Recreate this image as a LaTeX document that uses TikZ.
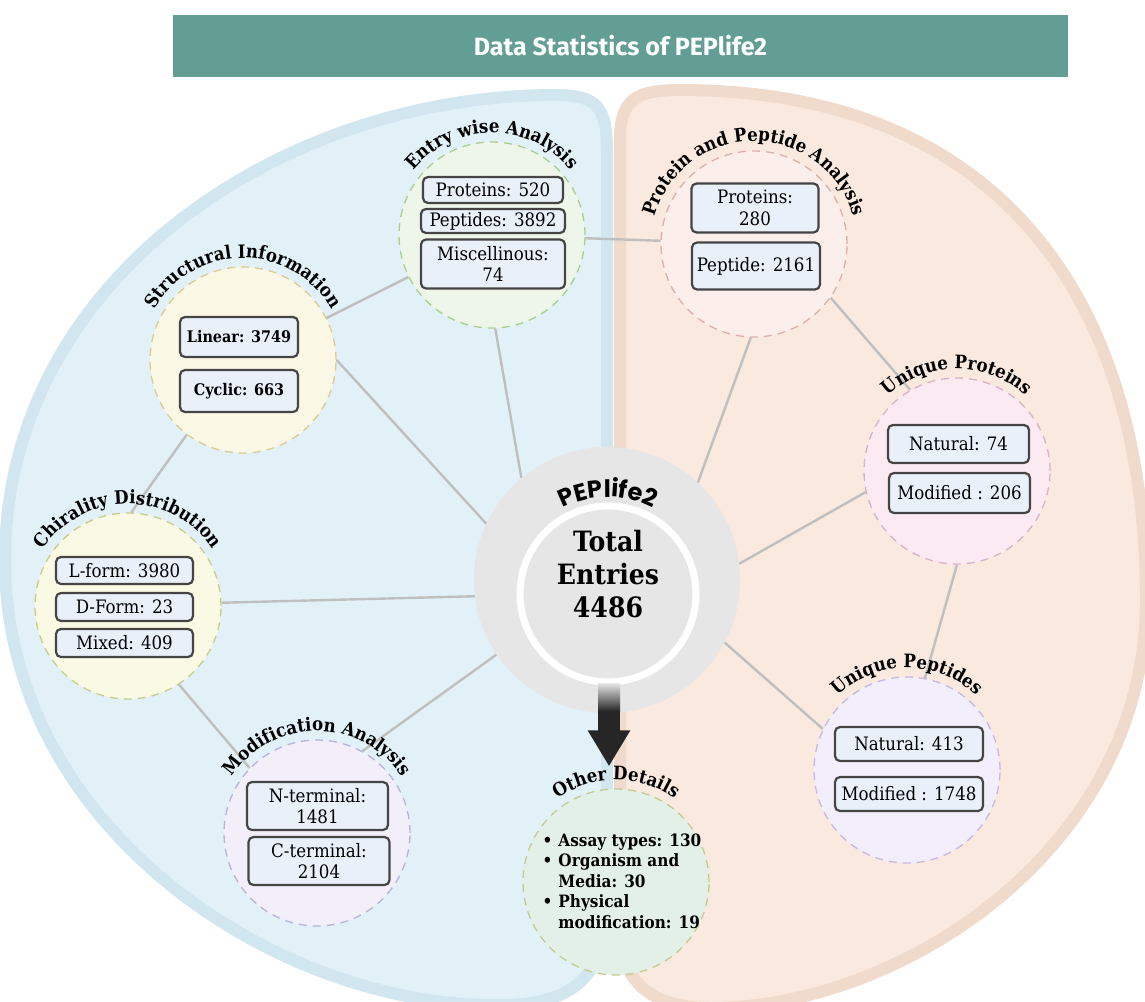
\documentclass[tikz,border=0pt]{standalone}
\usepackage{fontspec}
\setmainfont{DejaVu Serif Condensed}
\newfontfamily\hdfont{Fira Sans}
\newfontfamily\popfont{Poppins}
\usepackage{tikz}
\usetikzlibrary{calc,arrows.meta,positioning,decorations.text,backgrounds}
\definecolor{barc}{HTML}{629E94}
\definecolor{bluef}{HTML}{E2F1F8}
\definecolor{blueb}{HTML}{D2E6EF}
\definecolor{peachf}{HTML}{F9E9DF}
\definecolor{peachb}{HTML}{F0DACC}
\definecolor{lnkc}{HTML}{BFBFBF}
\definecolor{boxf}{HTML}{E9F0FA}
\definecolor{boxd}{HTML}{454545}
\definecolor{cgray}{HTML}{E6E6E6}
\definecolor{arrc}{HTML}{262626}
\definecolor{ewf}{HTML}{EEF6EA}\definecolor{ewd}{HTML}{A8CF8F}
\definecolor{ppf}{HTML}{FCEEEA}\definecolor{ppd}{HTML}{DDAFA9}
\definecolor{stf}{HTML}{FBF7E5}\definecolor{std}{HTML}{DCCB96}
\definecolor{chf}{HTML}{FAF9E3}\definecolor{chd}{HTML}{C8CC8E}
\definecolor{mdf}{HTML}{F2EEFA}\definecolor{mdd}{HTML}{B8B2D8}
\definecolor{odf}{HTML}{E3F0E7}\definecolor{odd}{HTML}{C5CA93}
\definecolor{upf}{HTML}{FCEAF3}\definecolor{upd}{HTML}{D8B2C9}
\definecolor{uef}{HTML}{F2EEFC}\definecolor{ued}{HTML}{C7B7E2}
\newcommand\arcfont{\fontsize{18.5}{18.5}\selectfont\bfseries}
\newcommand\pepfont{\popfont\bfseries\fontsize{24}{24}\selectfont}
\tikzset{
  lnk/.style={draw=lnkc,line width=2.4pt},
  crc/.style={circle,minimum size=186pt,inner sep=0pt,line width=1.3pt,dash pattern=on 8pt off 6pt},
  bx/.style={draw=boxd,fill=boxf,line width=2.2pt,rounded corners=5pt,align=center,inner sep=3pt,font=\fontsize{18.5}{21.5}\selectfont},
  bxb/.style={bx,font=\fontsize{16}{18}\selectfont\bfseries},
  lbl/.style={decorate,decoration={text along path,text align=center,text={|\arcfont|#1}}},
  big/.style={-{Triangle[width=40pt,length=36pt]},line width=22pt,draw=arrc}
}

\begin{document}
\begin{tikzpicture}[x=1pt,y=1pt]
\useasboundingbox (0,0) rectangle (1145,-1001);
\node[fill=barc,minimum width=895pt,minimum height=62pt,text=white,font=\hdfont\bfseries\fontsize{25}{25}\selectfont] (hd) at (620.5,-46) {Data Statistics of PEPlife2};

\node[crc,fill=ewf,draw=ewd] (ew) at (492,-235) {};
\node[crc,fill=ppf,draw=ppd] (pp) at (754,-244) {};
\node[crc,fill=stf,draw=std] (st) at (243,-360) {};
\node[crc,fill=chf,draw=chd] (ch) at (128,-606) {};
\node[crc,fill=mdf,draw=mdd] (md) at (317,-833) {};
\node[crc,fill=odf,draw=odd] (od) at (616,-882) {};
\node[crc,fill=upf,draw=upd] (up) at (957,-471) {};
\node[crc,fill=uef,draw=ued] (ue) at (907,-770) {};
\node[circle,fill=cgray,minimum size=266pt] (c) at (607,-580) {};
\node[circle,fill=cgray,draw=white,line width=7pt,minimum size=176pt] (ci) at (608,-594) {};

\begin{scope}[on background layer]
\path[fill=bluef,draw=blueb,line width=12pt] (607,-150) .. controls (607,-105) and (595,-95) .. (555,-95)
  .. controls (280,-95) and (5,-280) .. (5,-560)
  .. controls (5,-830) and (280,-1008) .. (500,-1005)
  .. controls (575,-1005) and (607,-975) .. (607,-900) -- cycle;
\path[fill=peachf,draw=peachb,line width=12pt] (620,-930) -- (620,-140) .. controls (620,-100) and (635,-90) .. (680,-90)
  .. controls (1000,-90) and (1146,-300) .. (1146,-600)
  .. controls (1146,-850) and (900,-1008) .. (710,-1008)
  .. controls (650,-1008) and (620,-980) .. (620,-930) -- cycle;
\draw[lnk] (ew) -- (pp);
\draw[lnk] (st) -- (ew);
\draw[lnk] (ew.272) -- (c.130);
\draw[lnk] (st.east) -- (c.155);
\draw[lnk] (st.233) -- (ch.88);
\draw[lnk] (ch.2) -- (c.187);
\draw[lnk] (ch.303) -- (md.136);
\draw[lnk] (md.61) -- (c.214);
\draw[lnk] (pp.268) -- (c.47);
\draw[lnk] (pp.325) -- (up.120);
\draw[lnk] (up.193) -- (c.7);
\draw[lnk] (up.270) -- (ue.79);
\draw[lnk] (c.332) -- (ue.154);
\end{scope}

\path[lbl={Entry wise Analysis}] ($(ew)+(210:102)$) arc[start angle=210,end angle=-30,radius=102];
\path[lbl={Protein and Peptide Analysis}] ($(pp)+(210:103)$) arc[start angle=210,end angle=-30,radius=103];
\path[lbl={Structural Information}] ($(st)+(210:102)$) arc[start angle=210,end angle=-30,radius=102];
\path[lbl={Chirality Distribution}] ($(ch)+(210:102)$) arc[start angle=210,end angle=-30,radius=102];
\path[lbl={Modification Analysis}] ($(md)+(210:102)$) arc[start angle=210,end angle=-30,radius=102];
\path[lbl={Other Details}] ($(od)+(210:102)$) arc[start angle=210,end angle=-30,radius=102];
\path[lbl={Unique Proteins}] ($(up)+(210:102)$) arc[start angle=210,end angle=-30,radius=102];
\path[lbl={Unique Peptides}] ($(ue)+(210:102)$) arc[start angle=210,end angle=-30,radius=102];

\node[bx,minimum width=140pt,minimum height=26pt] (ew1) at (493,-190) {Proteins: 520};
\node[bx,minimum width=144pt,minimum height=24pt] (ew2) at (493,-221) {Peptides: 3892};
\node[bx,minimum width=144pt,minimum height=49pt] (ew3) at (493,-264) {Miscellinous:\\74};
\node[bx,minimum width=127pt,minimum height=49pt] (pp1) at (755,-208) {Proteins:\\280};
\node[bx,minimum width=128pt,minimum height=47pt] (pp2) at (756,-266) {Peptide: 2161};
\node[bxb,minimum width=118pt,minimum height=40pt] (st1) at (239,-337) {Linear: 3749};
\node[bxb,minimum width=118pt,minimum height=42pt] (st2) at (239,-391) {Cyclic: 663};
\node[bx,minimum width=137pt,minimum height=27pt] (ch1) at (124.5,-570.5) {L-form: 3980};
\node[bx,minimum width=137pt,minimum height=28pt] (ch2) at (124.5,-607) {D-Form: 23};
\node[bx,minimum width=137pt,minimum height=28pt] (ch3) at (124.5,-643) {Mixed: 409};
\node[bx,minimum width=141pt,minimum height=48pt] (md1) at (317.5,-806) {N-terminal:\\1481};
\node[bx,minimum width=141pt,minimum height=48pt] (md2) at (319,-861) {C-terminal:\\2104};
\node[bx,minimum width=141pt,minimum height=38pt] (up1) at (958.5,-444) {Natural: 74};
\node[bx,minimum width=141pt,minimum height=40pt] (up2) at (959.5,-493) {Modified : 206};
\node[bx,minimum width=148pt,minimum height=34pt] (ue1) at (909,-744) {Natural: 413};
\node[bx,minimum width=148pt,minimum height=34pt] (ue2) at (909,-794) {Modified : 1748};

\node[font=\fontsize{17}{20.5}\selectfont\bfseries] (odt) at (622,-883) {\begin{tabular}{@{}l@{\hspace{6pt}}l@{}}
\textbullet & Assay types: 130\\
\textbullet & Organism and\\
 & Media: 30\\
\textbullet & Physical\\
 & modification: 19
\end{tabular}};

\path[decorate,decoration={text along path,text align=center,text={|\pepfont|PEPlife2}}] ($(ci)+(170:97)$) arc[start angle=170,end angle=10,radius=97];
\node[align=center,font=\fontsize{28}{33}\selectfont\bfseries] (tot) at (608,-574) {Total\\Entries\\4486};

\coordinate (atop) at ([xshift=2pt,yshift=30pt]c.south);
\coordinate (abot) at ($(atop |- od.north)+(0,22)$);
\draw[big] (atop) -- (abot);
\shade[top color=cgray,bottom color=arrc] ($(atop)+(-11,0)$) rectangle ($(atop)+(11,-28)$);
\end{tikzpicture}
\end{document}
